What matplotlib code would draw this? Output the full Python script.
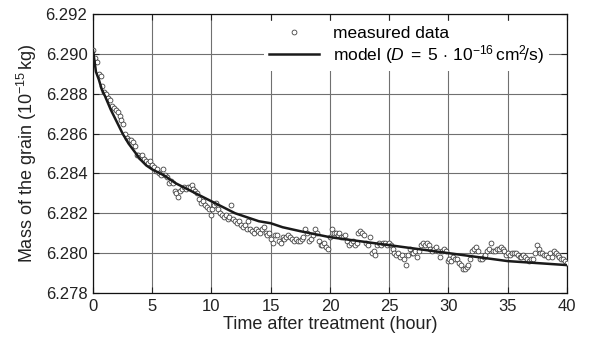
import numpy as np
import matplotlib
matplotlib.use("Agg")
import matplotlib.pyplot as plt

plt.rcParams['font.family'] = ['Liberation Sans', 'DejaVu Sans']
plt.rcParams['mathtext.fontset'] = 'custom'
plt.rcParams['mathtext.rm'] = 'Liberation Sans'
plt.rcParams['mathtext.it'] = 'Liberation Sans:italic'
plt.rcParams['mathtext.bf'] = 'Liberation Sans:bold'

# ---- data ----
# measured samples (every 0.16 h from 0 to 40 h)
time_h = np.linspace(0, 40, 251)
mass_measured = [
    6.2902, 6.2898, 6.2896, 6.2890, 6.2889, 6.2884, 6.2881, 6.2880, 6.2878, 6.2877,
    6.2874, 6.2873, 6.2872, 6.2871, 6.2869, 6.2867, 6.2865, 6.2860, 6.2858, 6.2857,
    6.2857, 6.2856, 6.2854, 6.2849, 6.2849,
    6.2848, 6.2849, 6.2847, 6.2846, 6.2845, 6.2846, 6.2844, 6.2843, 6.2841, 6.2842,
    6.2840, 6.2839, 6.2842, 6.2839, 6.2838, 6.2835, 6.2836, 6.2835, 6.2831, 6.2830,
    6.2828, 6.2831, 6.2832, 6.2833, 6.2832,
    6.2833, 6.2833, 6.2834, 6.2832, 6.2831, 6.2830, 6.2827, 6.2825, 6.2826, 6.2824,
    6.2823, 6.2822, 6.2819, 6.2822, 6.2824, 6.2825, 6.2822, 6.2820, 6.2819, 6.2818,
    6.2819, 6.2817, 6.2818, 6.2824, 6.2817,
    6.2816, 6.2815, 6.2816, 6.2814, 6.2813, 6.2814, 6.2812, 6.2816, 6.2812, 6.2811,
    6.2810, 6.2812, 6.2811, 6.2810, 6.2812, 6.2813, 6.2810, 6.2809, 6.2810, 6.2807,
    6.2805, 6.2809, 6.2809, 6.2806, 6.2805,
    6.2808, 6.2807, 6.2808, 6.2809, 6.2808, 6.2807, 6.2806, 6.2807, 6.2806, 6.2806,
    6.2807, 6.2808, 6.2812, 6.2810, 6.2806, 6.2807, 6.2809, 6.2812, 6.2810, 6.2806,
    6.2804, 6.2804, 6.2805, 6.2803, 6.2802,
    6.2808, 6.2812, 6.2810, 6.2810, 6.2809, 6.2810, 6.2808, 6.2808, 6.2809, 6.2806,
    6.2804, 6.2805, 6.2806, 6.2804, 6.2805, 6.2810, 6.2811, 6.2810, 6.2809, 6.2805,
    6.2804, 6.2808, 6.2800, 6.2801, 6.2799,
    6.2804, 6.2805, 6.2804, 6.2805, 6.2805, 6.2804, 6.2805, 6.2804, 6.2802, 6.2800,
    6.2799, 6.2800, 6.2798, 6.2799, 6.2797, 6.2794, 6.2799, 6.2802, 6.2800, 6.2800,
    6.2801, 6.2798, 6.2801, 6.2804, 6.2805,
    6.2804, 6.2805, 6.2804, 6.2802, 6.2801, 6.2802, 6.2803, 6.2801, 6.2798, 6.2801,
    6.2802, 6.2801, 6.2796, 6.2797, 6.2796, 6.2798, 6.2797, 6.2797, 6.2795, 6.2794,
    6.2792, 6.2792, 6.2793, 6.2794, 6.2797,
    6.2801, 6.2802, 6.2803, 6.2801, 6.2797, 6.2797, 6.2798, 6.2799, 6.2801, 6.2802,
    6.2805, 6.2801, 6.2801, 6.2802, 6.2802, 6.2803, 6.2802, 6.2801, 6.2799, 6.2800,
    6.2799, 6.2800, 6.2800, 6.2800, 6.2799,
    6.2798, 6.2798, 6.2799, 6.2798, 6.2797, 6.2796, 6.2797, 6.2797, 6.2800, 6.2804,
    6.2802, 6.2800, 6.2800, 6.2799, 6.2799, 6.2798, 6.2800, 6.2798, 6.2801, 6.2800,
    6.2799, 6.2798, 6.2797, 6.2797, 6.2796, 6.2795,
]

# model curve
model_time_h = [0, 0.25, 0.5, 0.75, 1, 1.5, 2, 2.5, 3, 3.5, 4, 4.5, 5, 6, 7, 8, 9, 10,
                11, 12, 13, 14, 15, 16, 17.5, 20, 22.5, 25, 27.5, 30, 32.5, 35, 37.5, 40]
model_mass = [6.2902, 6.2891, 6.2887, 6.2882, 6.2879, 6.2872, 6.2866, 6.2860, 6.2855,
              6.2851, 6.2847, 6.2844, 6.2842, 6.2839, 6.2835, 6.2832, 6.2829, 6.2826,
              6.2823, 6.2820, 6.2818, 6.2816, 6.2815, 6.2813, 6.2811, 6.2808, 6.2806,
              6.2804, 6.2802, 6.2800, 6.2798, 6.2796, 6.2795, 6.2794]

x_ticks = [0, 5, 10, 15, 20, 25, 30, 35, 40]
y_ticks = [6.278, 6.280, 6.282, 6.284, 6.286, 6.288, 6.290, 6.292]

# ---- figure ----
fig = plt.figure(figsize=(6.03, 3.43), dpi=100)
ax = fig.add_axes([0.1542, 0.1458, 0.7861, 0.8134])

ax.plot(time_h, mass_measured, linestyle='none', marker='o', markersize=3.5,
        markerfacecolor='white', markeredgecolor='#333333', markeredgewidth=0.55,
        label='measured data', zorder=3)
ax.plot(model_time_h, model_mass, color='#1a1a1a', linewidth=1.8,
        label=r'model $(D\;=\;5\,\cdot\,10^{-16}\,\mathrm{cm}^2\!/\mathrm{s})$', zorder=4)

ax.set_xlim(0, 40)
ax.set_ylim(6.278, 6.292)
ax.set_xticks(x_ticks)
ax.set_yticks(y_ticks)
ax.set_yticklabels([f'{v:.3f}' for v in y_ticks])
ax.grid(True, color='#707070', linewidth=0.8)
ax.set_axisbelow(True)
ax.tick_params(direction='in', length=4, width=0.8, top=True, right=True,
               labelsize=12, colors='#222222')
ax.tick_params(axis='x', pad=4)
ax.tick_params(axis='y', pad=4)
for s in ax.spines.values():
    s.set_linewidth(0.9)
    s.set_color('#111111')

ax.set_xlabel('Time after treatment (hour)', fontsize=13, labelpad=2, color='#222222')
ax.set_ylabel(r'Mass of the grain $(10^{-15}\,\mathrm{kg})$', fontsize=13, labelpad=5,
              color='#222222')

leg = ax.legend(loc='upper right', bbox_to_anchor=(0.963, 0.975), fontsize=12.5,
                frameon=True, fancybox=False, edgecolor='none', facecolor='white',
                framealpha=1, handlelength=2.9, labelspacing=0.1, borderpad=0.3,
                handletextpad=0.8, borderaxespad=0)
leg.set_zorder(5)

fig.savefig('out.png', dpi=100)
